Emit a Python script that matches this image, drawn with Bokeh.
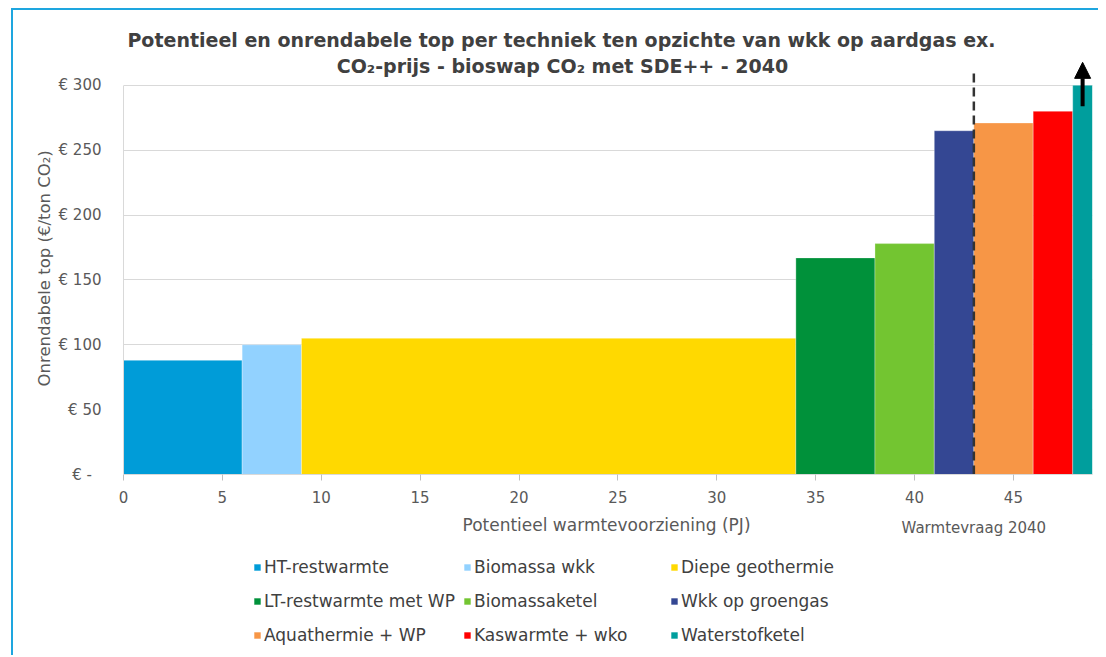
from math import pi
from bokeh.plotting import figure
from bokeh.layouts import column
from bokeh.models import (ColumnDataSource, Range1d, Label, Arrow, NormalHead,
                          Legend, LegendItem, FixedTicker, LinearAxis)
from bokeh.embed import file_html
from bokeh.resources import INLINE

categories = ["HT-restwarmte", "Biomassa wkk", "Diepe geothermie",
              "LT-restwarmte met WP", "Biomassaketel", "Wkk op groengas",
              "Aquathermie + WP", "Kaswarmte + wko", "Waterstofketel"]
potential = [6, 3, 25, 4, 3, 2, 3, 2, 1]          # PJ (bar widths)
top_value = [88, 100, 105, 167, 178, 265, 271, 280, 300]  # €/ton CO2
colors = ["#009cd8", "#92d2ff", "#ffd900", "#00913a", "#73c531",
          "#344793", "#f79646", "#ff0000", "#009e9d"]
x_ticks = [0, 5, 10, 15, 20, 25, 30, 35, 40, 45]
y_ticks = [0, 50, 100, 150, 200, 250, 300]
y_tick_labels = ["€ -\u00a0\u00a0", "€ 50", "€ 100", "€ 150", "€ 200", "€ 250", "€ 300"]
demand_2040 = 43
title_lines = ["Potentieel en onrendabele top per techniek ten opzichte van wkk op aardgas ex.",
               "CO₂-prijs - bioswap CO₂ met SDE++ - 2040"]

FONT = "DejaVu Sans"
TXT = "#404040"
GREY = "#595959"

lefts, rights = [], []
acc = 0
for w in potential:
    lefts.append(acc)
    acc += w
    rights.append(acc)

src = ColumnDataSource(dict(left=lefts, right=rights, top=top_value,
                            bottom=[0] * len(top_value), color=colors, name=categories))

xr = Range1d(0, 49)
p = figure(width=1085, height=502, output_backend="svg", toolbar_location=None,
           x_range=xr, y_range=Range1d(0, 350),
           min_border_left=110, min_border_right=6, min_border_top=10,
           min_border_bottom=38, outline_line_color=None)

r = p.quad(left="left", right="right", top="top", bottom="bottom", source=src,
           fill_color="color", line_color="white", line_width=0.6, line_alpha=0.5)

# x axis
xa = p.xaxis[0]
xa.ticker = FixedTicker(ticks=x_ticks)
xa.axis_line_color = "#d9d9d9"
xa.major_tick_line_color = "#bfbfbf"
xa.major_tick_out = 6
xa.major_tick_in = 0
xa.minor_tick_line_color = None
xa.major_label_standoff = 10
xa.major_label_text_font = FONT
xa.major_label_text_font_size = "15px"
xa.major_label_text_color = GREY

# y axis
ya = p.yaxis[0]
ya.ticker = FixedTicker(ticks=y_ticks)
ya.bounds = (0, 300)
ya.major_label_overrides = {t: l for t, l in zip(y_ticks, y_tick_labels)}
ya.axis_line_color = "#d9d9d9"
ya.major_tick_line_color = None
ya.minor_tick_line_color = None
ya.major_label_standoff = 16
ya.major_label_text_font = FONT
ya.major_label_text_font_size = "15px"
ya.major_label_text_color = GREY

# y axis title
ylab_pos = 250
ya2 = LinearAxis(ticker=FixedTicker(ticks=[ylab_pos]),
                 major_label_overrides={ylab_pos: "Onrendabele top (€/ton CO₂)"},
                 major_label_orientation=pi / 2, axis_line_color=None,
                 major_tick_line_color=None, minor_tick_line_color=None,
                 major_label_standoff=5, major_label_text_font=FONT,
                 major_label_text_font_size="16.5px", major_label_text_color=GREY)
p.add_layout(ya2, "left")

p.xgrid.grid_line_color = None
p.ygrid.ticker = FixedTicker(ticks=y_ticks)
p.ygrid.grid_line_color = "#d9d9d9"

xs = 969 / 49.0
ys = 389 / 300.0

def dx(px):
    return (px - 123) / xs

def dy(py):
    return (474 - py) / ys

# title
p.add_layout(Label(x=dx(561), y=dy(40), text=title_lines[0], text_align="center",
                   text_baseline="middle", text_font=FONT, text_font_style="bold",
                   text_font_size="19px", text_color=TXT))
p.add_layout(Label(x=dx(562), y=dy(66), text=title_lines[1], text_align="center",
                   text_baseline="middle", text_font=FONT, text_font_style="bold",
                   text_font_size="19px", text_color=TXT))

# demand line
p.segment(x0=[demand_2040], y0=[0], x1=[demand_2040], y1=[dy(72)],
          line_color="#333333", line_width=2.5, line_dash="9 5")

# arrow on capped bar
last_mid = (lefts[-1] + rights[-1]) / 2
p.add_layout(Arrow(end=NormalHead(size=16, fill_color="black", line_color="black"),
                   x_start=last_mid, y_start=dy(106), x_end=last_mid, y_end=dy(62),
                   line_color="black", line_width=4))

# ---- lower panel: axis title, demand label and legend ----
TOP2 = 512
H2 = 143
Y0 = 1000
p2 = figure(width=1085, height=H2, output_backend="svg", toolbar_location=None,
            x_range=xr, y_range=Range1d(Y0 + H2, Y0),
            min_border_left=110, min_border_right=6, min_border_top=0,
            min_border_bottom=0, outline_line_color=None)
p2.xaxis.visible = False
p2.yaxis.visible = False
p2.grid.visible = False

def gy(py):
    return Y0 + (py - TOP2)

r2 = p2.quad(left="left", right="right", top="top", bottom="bottom", source=src,
             fill_color="color", line_color=None)

p2.add_layout(Label(x=dx(606), y=gy(524), text="Potentieel warmtevoorziening (PJ)",
                    text_align="center", text_baseline="middle", text_font=FONT,
                    text_font_size="17px", text_color=GREY))
p2.add_layout(Label(x=demand_2040, y=gy(527), text="Warmtevraag 2040",
                    text_align="center", text_baseline="middle", text_font=FONT,
                    text_font_size="15px", text_color=GREY))

col_x = [253, 463, 670]
for c, cx in enumerate(col_x):
    idx = [c, c + 3, c + 6]
    items = [LegendItem(label=categories[i], renderers=[r2], index=i) for i in idx]
    lg = Legend(items=items, orientation="vertical",
                location=(cx - 123, 655 - 645), glyph_width=8, glyph_height=8,
                label_text_font=FONT, label_text_font_size="17px",
                label_text_color=TXT, label_standoff=3, spacing=14,
                padding=0, margin=0, border_line_color=None,
                background_fill_alpha=0)
    p2.add_layout(lg, "center")

layout = column(p, p2, spacing=0)
layout.styles = {"border-top": "2px solid #1ea6df", "border-left": "2px solid #1ea6df"}
layout.margin = (8, 0, 0, 11)

open("out.html", "w").write(file_html(layout, INLINE))
